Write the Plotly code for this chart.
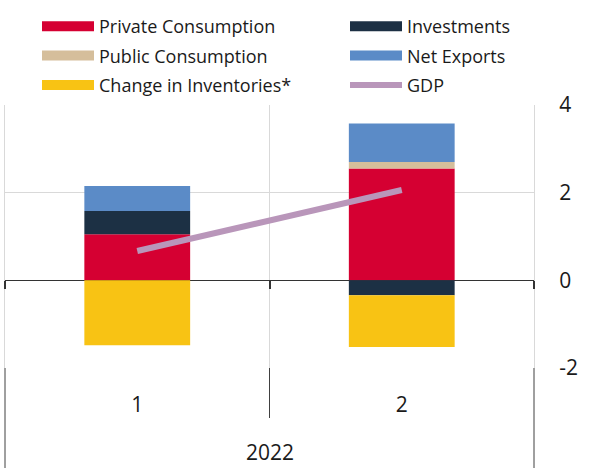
import plotly.graph_objects as go

year_label = "2022"
quarters = ["1", "2"]
y_tickvals = [-2, 0, 2, 4]
y_ticktext = ["-2", "0", "2", "4"]

private_consumption = [1.05, 2.55]
investments = [0.53, -0.34]
public_consumption = [0.0, 0.15]
net_exports = [0.57, 0.88]
inventories = [-1.48, -1.18]
gdp = [0.67, 2.06]

names = ["Private Consumption", "Investments", "Public Consumption", "Net Exports", "Change in Inventories*"]
colors = ["#D50032", "#1C3044", "#D5BE9B", "#5B8BC7", "#F8C314"]
series = [private_consumption, investments, public_consumption, net_exports, inventories]
gdp_color = "#B996BA"

FONT = "Open Sans"
TXT = "#1a1a1a"
GRID = "#D9D9D9"

fig = go.Figure()
for n, c, s in zip(names, colors, series):
    fig.add_trace(go.Bar(x=quarters, y=s, name=n, marker=dict(color=c, line=dict(width=0)),
                         showlegend=False))

fig.add_trace(go.Scatter(x=quarters, y=gdp, name="GDP", mode="lines", xaxis="x2",
                         line=dict(color=gdp_color, width=6), showlegend=False))

# legend entries: two columns of three rows
legend_order = [(names[0], colors[0], 12, "legend"), (names[2], colors[2], 12, "legend"),
                (names[4], colors[4], 12, "legend"),
                (names[1], colors[1], 12, "legend2"), (names[3], colors[3], 12, "legend2"),
                ("GDP", gdp_color, 6, "legend2")]
for i, (n, c, w, lg) in enumerate(legend_order):
    fig.add_trace(go.Scatter(x=[quarters[0]], y=[None], name=n, mode="lines",
                             line=dict(color=c, width=w), legend=lg, legendgroup=f"g{i}",
                             hoverinfo="skip"))

leg_common = dict(orientation="v", xref="paper", yref="paper", xanchor="left",
                  yanchor="top", y=(368 - 8) / 263,
                  font=dict(family=FONT, size=18, color=TXT), bgcolor="rgba(0,0,0,0)",
                  itemwidth=52, borderwidth=0, tracegroupgap=3)

fig.update_layout(
    width=597, height=468,
    margin=dict(l=5, r=63, t=105, b=100),
    barmode="relative", bargap=0.6,
    plot_bgcolor="white", paper_bgcolor="white",
    font=dict(family=FONT, size=21, color=TXT),
    legend=dict(leg_common, x=(37 - 5) / 529),
    legend2=dict(leg_common, x=(345 - 5) / 529),
    xaxis=dict(type="category", range=[-0.5, 1.5], tickson="boundaries", showgrid=True,
               gridcolor=GRID, gridwidth=1, showline=False, ticks="", ticklabelstandoff=22,
               tickfont=dict(size=21, family=FONT, color=TXT)),
    xaxis2=dict(type="category", range=[-0.5, 1.5], overlaying="x", anchor="free",
                position=1 / 3, tickson="boundaries", ticks="outside", ticklen=8,
                tickwidth=1.5, tickcolor="#333333", showticklabels=False, showgrid=False,
                showline=False),
    yaxis=dict(side="right", range=[-2, 4], tickvals=y_tickvals, ticktext=y_ticktext,
               showgrid=True, gridcolor=GRID,
               gridwidth=1, zeroline=True, zerolinecolor="#333333", zerolinewidth=1,
               showline=True, mirror=True, linecolor=GRID, ticks="", ticklabelstandoff=20,
               tickfont=dict(size=21, family=FONT, color=TXT)),
    annotations=[dict(text=year_label, xref="paper", yref="paper", x=0.5, y=-84 / 263,
                      yanchor="middle", showarrow=False,
                      font=dict(size=21, family=FONT, color=TXT))],
    shapes=[
        dict(type="line", xref="paper", yref="paper", x0=0.5, x1=0.5, y0=0, y1=-50 / 263,
             line=dict(color="#404040", width=1)),
        dict(type="line", xref="paper", yref="paper", x0=0, x1=0, y0=0, y1=-100 / 263,
             line=dict(color="#404040", width=1)),
        dict(type="line", xref="paper", yref="paper", x0=1, x1=1, y0=0, y1=-100 / 263,
             line=dict(color="#404040", width=1)),
    ],
)

fig.write_html("out.html")
